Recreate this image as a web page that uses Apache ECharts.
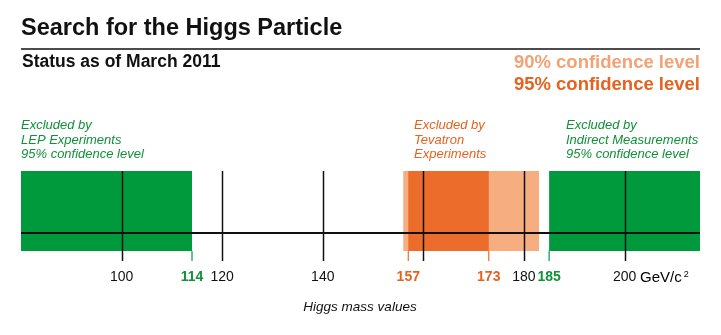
<!DOCTYPE html>
<html>
<head>
<meta charset="utf-8">
<script src="https://cdn.jsdelivr.net/npm/echarts@6/dist/echarts.min.js"></script>
<style>
html,body{margin:0;padding:0;background:#fff;}
#chart{width:721px;height:335px;}
</style>
</head>
<body>
<div id="chart"></div>
<script>
// ---- data (GeV/c^2) ----
const xRange = [80, 215];
const lepExcluded = [80, 114];          // LEP, 95% CL
const tevatron90 = [156, 183];          // Tevatron, 90% CL
const tevatron95 = [157, 173];          // Tevatron, 95% CL
const indirectExcluded = [185, 215];    // indirect measurements, 95% CL
const gridValues = [100, 120, 140, 160, 180, 200];
const tickLabels = [100, 114, 120, 140, 157, 173, 180, 185, 200];
const boundaryTicks = [114, 157, 173, 185];

// ---- styling ----
const GREEN = '#009a3d';
const GREEN_TEXT = '#12903a';
const ORANGE = '#ec6c2c';
const ORANGE_TEXT = '#e5621f';
const LIGHT_ORANGE = '#f6ae80';
const LIGHT_ORANGE_TEXT = '#f2a274';
const FONT = '"Liberation Sans", Arial, Helvetica, sans-serif';
const LABEL_SIZE = 14;

// vertical layout in y-axis units (1 unit = 1 px)
const Y_MAX = 90, BAND_TOP = 90, BAND_BOTTOM = 10, AXIS_Y = 28;

function isGreen(v) { return v === lepExcluded[1] || v === indirectExcluded[0]; }
function isOrange(v) { return v === tevatron95[0] || v === tevatron95[1]; }

function bandSeries(range, color, z) {
  return {
    type: 'custom', silent: true, z: z, data: [range],
    renderItem: function (params, api) {
      const p0 = api.coord([api.value(0), BAND_TOP]);
      const p1 = api.coord([api.value(1), BAND_BOTTOM]);
      return { type: 'rect', shape: { x: p0[0], y: p0[1], width: p1[0] - p0[0], height: p1[1] - p0[1] }, style: { fill: color } };
    }
  };
}

const chart = echarts.init(document.getElementById('chart'), null, { renderer: 'canvas' });

const option = {
  animation: false,
  backgroundColor: '#fff',
  grid: { left: 21, right: 21, top: 171, bottom: 74, containLabel: false },
  xAxis: {
    type: 'value', min: xRange[0], max: xRange[1],
    axisLine: { show: false }, axisTick: { show: false }, splitLine: { show: false },
    axisLabel: {
      customValues: tickLabels,
      margin: 9,
      fontFamily: FONT, fontSize: LABEL_SIZE, color: '#111',
      formatter: function (v) {
        if (isGreen(v)) return '{g|' + v + '}';
        if (isOrange(v)) return '{o|' + v + '}';
        return '{n|' + v + '}';
      },
      rich: {
        n: { fontFamily: FONT, fontSize: LABEL_SIZE, color: '#111' },
        g: { fontFamily: FONT, fontSize: LABEL_SIZE, color: GREEN_TEXT, fontWeight: 'bold' },
        o: { fontFamily: FONT, fontSize: LABEL_SIZE, color: ORANGE_TEXT, fontWeight: 'bold' }
      }
    }
  },
  yAxis: { type: 'value', min: 0, max: Y_MAX, show: false, splitLine: { show: false } },
  series: [
    bandSeries(tevatron90, LIGHT_ORANGE, 1),
    bandSeries(tevatron95, ORANGE, 2),
    bandSeries(lepExcluded, GREEN, 2),
    bandSeries(indirectExcluded, GREEN, 2),
    {
      type: 'custom', silent: true, z: 5, data: [xRange],
      renderItem: function (params, api) {
        const p0 = api.coord([api.value(0), AXIS_Y]);
        const p1 = api.coord([api.value(1), AXIS_Y]);
        return { type: 'line', shape: { x1: p0[0], y1: p0[1], x2: p1[0], y2: p1[1] }, style: { stroke: '#111', lineWidth: 2 } };
      }
    },
    {
      type: 'custom', silent: true, z: 6, data: gridValues.map(function (v) { return [v, 0]; }),
      renderItem: function (params, api) {
        const p0 = api.coord([api.value(0), 0]);
        const p1 = api.coord([api.value(0), Y_MAX]);
        const x = Math.round(p0[0]) + 0.5;
        return { type: 'line', shape: { x1: x, y1: p0[1], x2: x, y2: p1[1] }, style: { stroke: '#111', lineWidth: 1.5 } };
      }
    },
    {
      type: 'custom', silent: true, z: 6, data: boundaryTicks.map(function (v) { return [v, 0]; }),
      renderItem: function (params, api) {
        const v = api.value(0);
        const p0 = api.coord([v, 0]);
        const p1 = api.coord([v, BAND_BOTTOM]);
        return { type: 'line', shape: { x1: p0[0], y1: p0[1], x2: p1[0], y2: p1[1] }, style: { stroke: isGreen(v) ? GREEN : ORANGE, lineWidth: 1.2 } };
      }
    }
  ],
  graphic: [
    { type: 'text', left: 21, top: 17, style: { text: 'Search for the Higgs Particle', font: 'bold 23.5px ' + FONT, fill: '#111' } },
    { type: 'line', shape: { x1: 21, y1: 49, x2: 700, y2: 49 }, style: { stroke: '#111', lineWidth: 1.5 } },
    { type: 'text', x: 22, y: 62, style: { text: 'Status as of March 2011', font: 'bold 17.5px ' + FONT, fill: '#111', verticalAlign: 'middle' } },
    { type: 'text', x: 700, y: 62.5, style: { text: '90% confidence level', font: 'bold 18.5px ' + FONT, fill: LIGHT_ORANGE_TEXT, align: 'right', verticalAlign: 'middle' } },
    { type: 'text', x: 700, y: 84.5, style: { text: '95% confidence level', font: 'bold 18.5px ' + FONT, fill: ORANGE_TEXT, align: 'right', verticalAlign: 'middle' } },
    { type: 'text', x: 21, y: 140, style: { text: 'Excluded by\nLEP Experiments\n95% confidence level', font: 'italic 13px ' + FONT, fill: GREEN_TEXT, lineHeight: 14.5, verticalAlign: 'middle' } },
    { type: 'text', x: 414, y: 140, style: { text: 'Excluded by\nTevatron\nExperiments', font: 'italic 13px ' + FONT, fill: ORANGE_TEXT, lineHeight: 14.5, verticalAlign: 'middle' } },
    { type: 'text', x: 566, y: 140, style: { text: 'Excluded by\nIndirect Measurements\n95% confidence level', font: 'italic 13px ' + FONT, fill: GREEN_TEXT, lineHeight: 14.5, verticalAlign: 'middle' } },
    { type: 'text', x: 640, y: 278, style: {
        text: '{u|GeV/c}{s|2}', verticalAlign: 'middle',
        rich: {
          u: { fontFamily: FONT, fontSize: 15, color: '#111' },
          s: { fontFamily: FONT, fontSize: 9, color: '#111', padding: [0, 0, 7, 2] }
        }
      } },
    { type: 'text', x: 360, y: 307, style: { text: 'Higgs mass values', font: 'italic 13.5px ' + FONT, fill: '#111', align: 'center', verticalAlign: 'middle' } }
  ]
};
chart.setOption(option);
</script>
</body>
</html>
